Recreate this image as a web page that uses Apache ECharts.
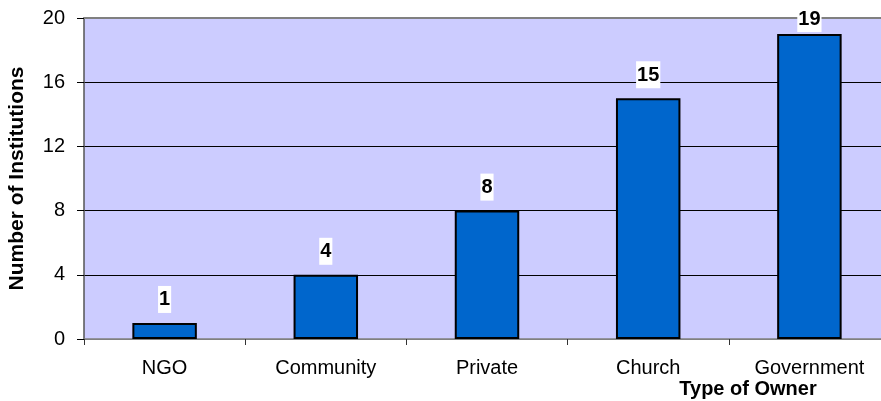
<!DOCTYPE html>
<html>
<head>
<meta charset="utf-8">
<script src="https://cdn.jsdelivr.net/npm/echarts@6/dist/echarts.min.js"></script>
<style>
html,body{margin:0;padding:0;background:#fff;}
#chart{width:881px;height:401px;}
</style>
</head>
<body>
<div id="chart"></div>
<script>
const categories = ['NGO', 'Community', 'Private', 'Church', 'Government'];
const institutions = [1, 4, 8, 15, 19];
const yTicks = [0, 4, 8, 12, 16, 20];
const yAxisTitle = 'Number of Institutions';
const xAxisTitle = 'Type of Owner';

const FONT = '"Liberation Sans", Arial, sans-serif';
const chart = echarts.init(document.getElementById('chart'), null, {renderer: 'canvas'});

const yMax = yTicks[yTicks.length - 1];
const yInterval = yTicks[1] - yTicks[0];

chart.setOption({
  animation: false,
  backgroundColor: '#ffffff',
  grid: {
    left: 84, top: 18, width: 806, height: 321,
    containLabel: false,
    outerBoundsMode: 'none',
    show: true, backgroundColor: '#CCCCFF', borderWidth: 0
  },
  xAxis: [{
    type: 'category',
    data: categories,
    boundaryGap: true,
    axisLine: {show: true, lineStyle: {color: '#808080', width: 1.5}},
    axisTick: {show: true, length: 6, lineStyle: {color: '#333'}},
    axisLabel: {color: '#000', fontFamily: FONT, fontSize: 20, margin: 19}
  }, {
    type: 'category',
    data: categories,
    position: 'top',
    axisLine: {show: true, lineStyle: {color: '#808080', width: 2}},
    axisTick: {show: false},
    axisLabel: {show: false}
  }],
  yAxis: {
    type: 'value',
    min: yTicks[0], max: yMax, interval: yInterval,
    name: yAxisTitle,
    nameLocation: 'middle',
    nameGap: 56,
    nameRotate: 90,
    nameTextStyle: {color: '#000', fontFamily: FONT, fontSize: 21, fontWeight: 'bold'},
    axisLine: {show: true, lineStyle: {color: '#555', width: 1.5}},
    axisTick: {show: true, inside: false, length: 7, lineStyle: {color: '#000'}},
    axisLabel: {color: '#000', fontFamily: FONT, fontSize: 20, margin: 19,
      formatter: v => yTicks.includes(v) ? String(v) : ''},
    splitLine: {show: true, lineStyle: {color: ['#808080', '#000', '#000', '#000', '#000', 'rgba(0,0,0,0)'], width: 1}}
  },
  graphic: [{
    type: 'text',
    x: 748, y: 389,
    style: {
      text: xAxisTitle, fill: '#000', font: 'bold 20px ' + FONT,
      align: 'center', verticalAlign: 'middle'
    }
  }],
  series: [{
    type: 'bar',
    data: institutions.map(v => ({
      value: v,
      label: {distance: v > yMax - 2 ? 2 : 10}
    })),
    barWidth: '40%',
    itemStyle: {color: '#0066CC', borderColor: '#000', borderWidth: 2},
    label: {
      show: true, position: 'top',
      color: '#000', fontFamily: FONT, fontSize: 20, fontWeight: 'bold',
      backgroundColor: '#fff', padding: [4, 1, 3, 1]
    },
    z: 3
  }]
});
</script>
</body>
</html>
